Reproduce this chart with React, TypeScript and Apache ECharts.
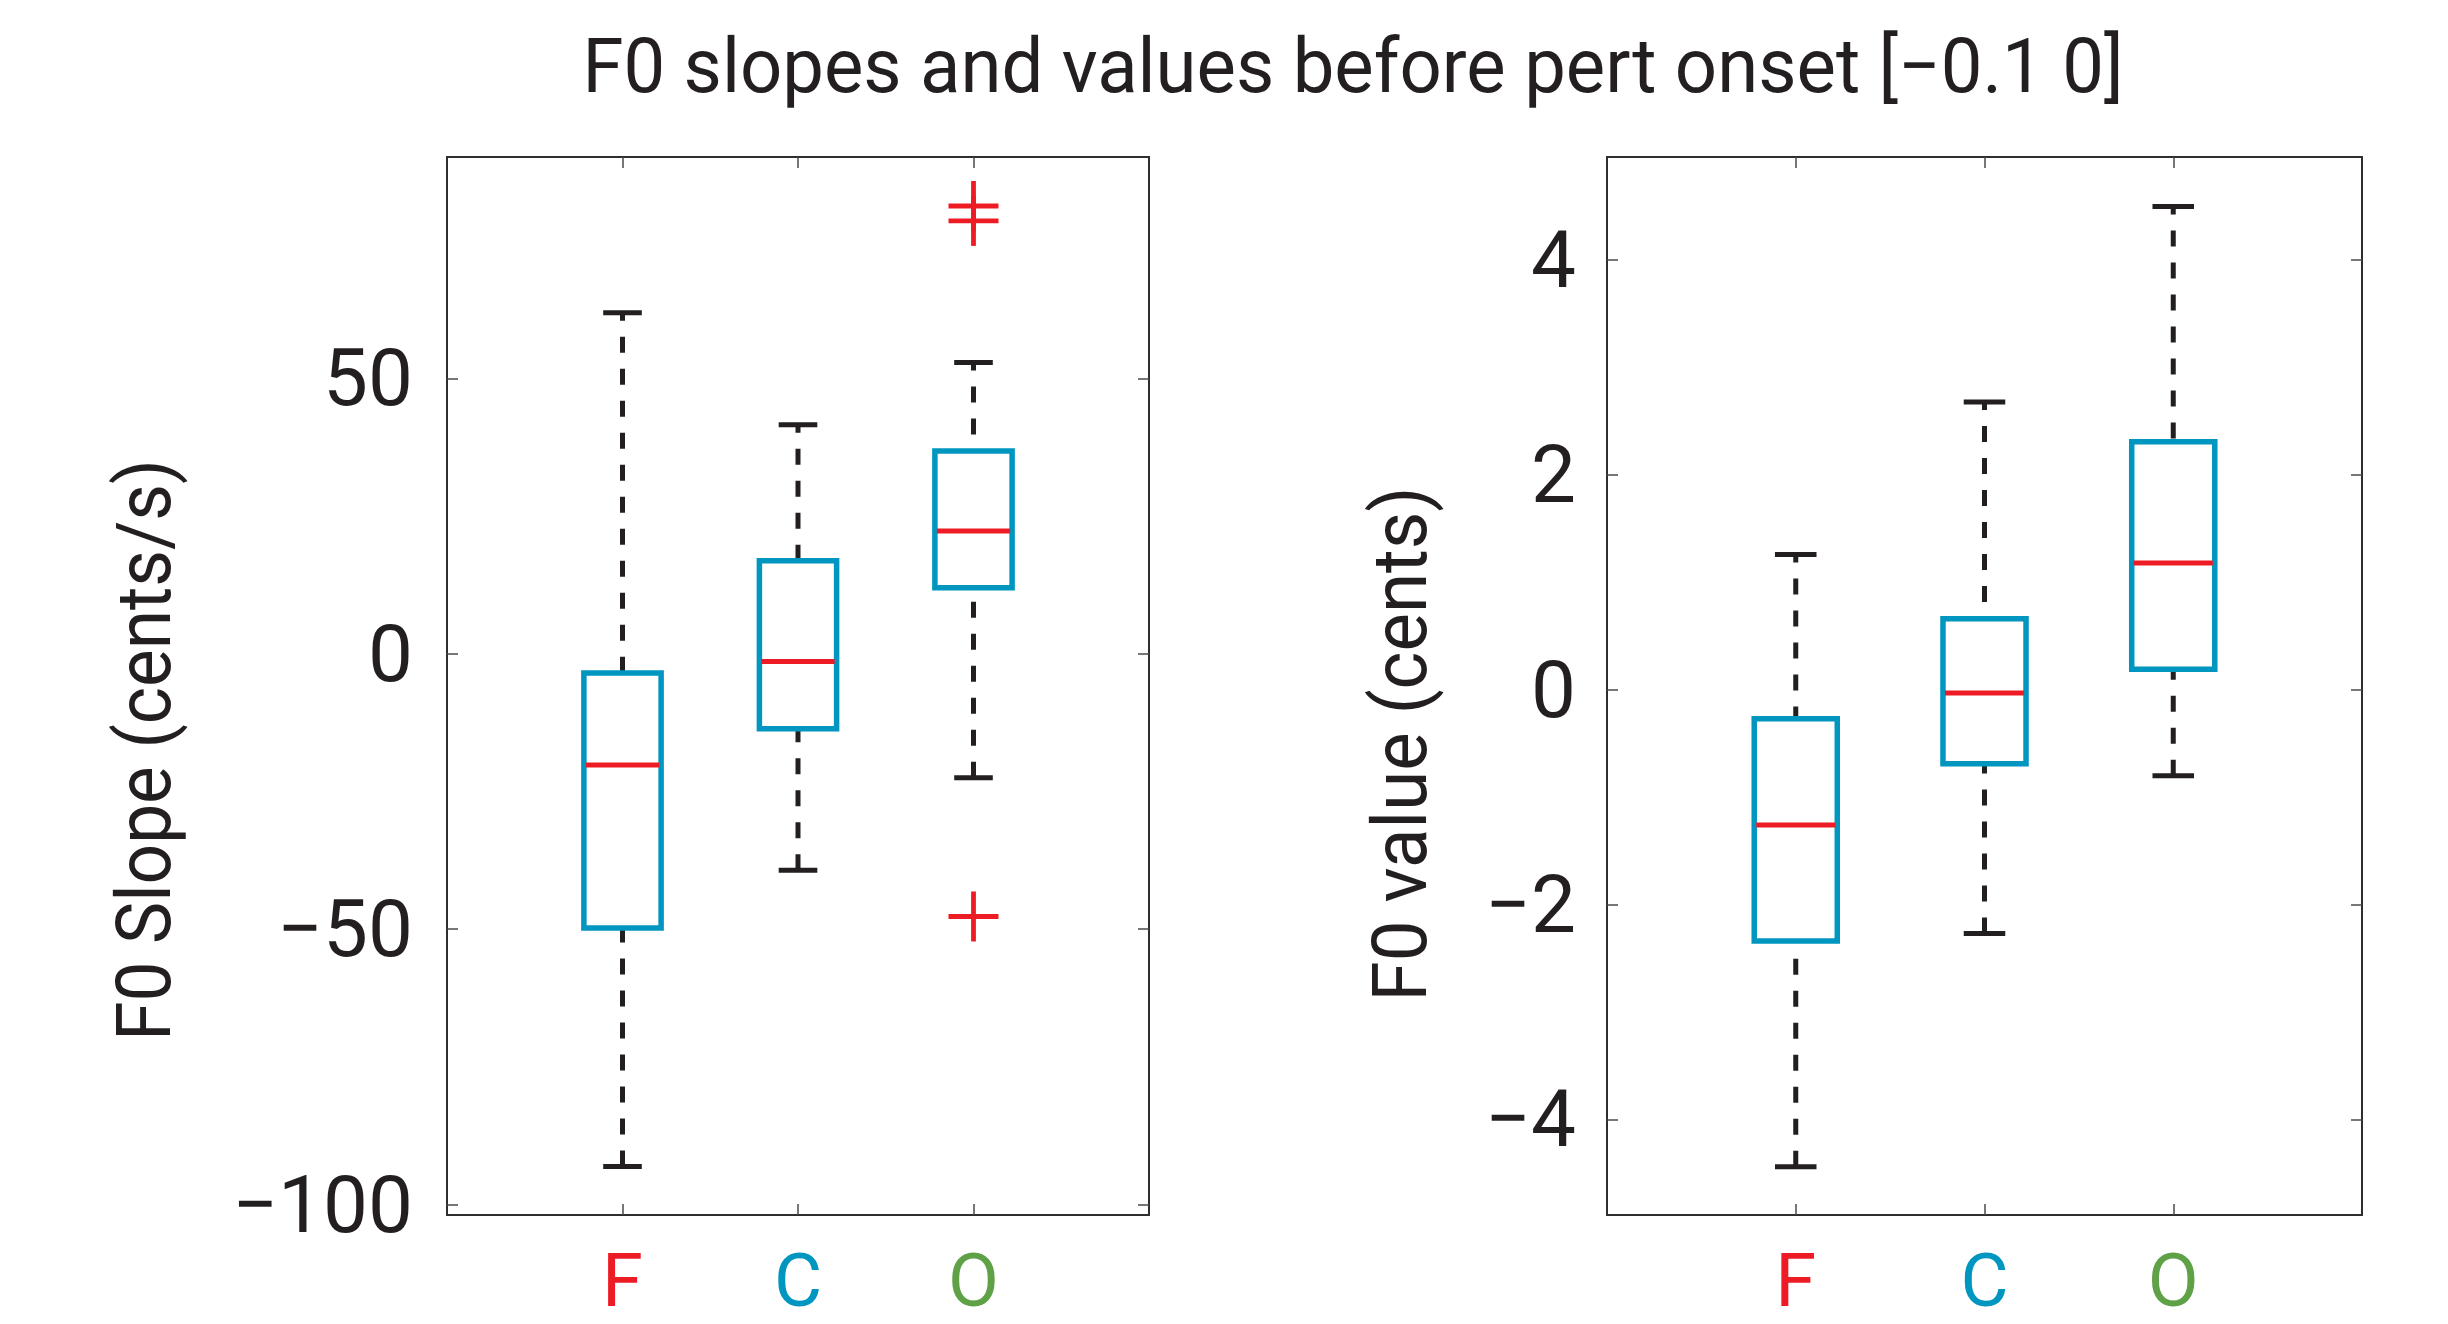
import React, { useEffect, useRef } from 'react';
import * as echarts from 'echarts';

// ---------- data ----------
const titleText = 'F0 slopes and values before pert onset [\u22120.1 0]';
const slopeAxisName = 'F0 Slope (cents/s)';
const valueAxisName = 'F0 value (cents)';

const categories = ['F', 'C', 'O'];
const categoryColors = ['#ed1c24', '#0096c0', '#5fa146'];
const categoryPositions = [1, 2, 3];

const slopeLow = [-93.1, -39.3, -22.5];
const slopeQ1 = [-49.8, -13.6, 12.0];
const slopeMedian = [-20.2, -1.4, 22.3];
const slopeQ3 = [-3.5, 16.9, 36.8];
const slopeHigh = [61.9, 41.6, 52.9];
const slopeOutlierGroup = [3, 3, 3];
const slopeOutlierValues = [81.3, 78.6, -47.7];

const valueLow = [-4.44, -2.27, -0.8];
const valueQ1 = [-2.34, -0.69, 0.19];
const valueMedian = [-1.26, -0.03, 1.18];
const valueQ3 = [-0.27, 0.66, 2.31];
const valueHigh = [1.26, 2.68, 4.5];

const slopeTicks = [-100, -50, 0, 50];
const valueTicks = [-4, -2, 0, 2, 4];
const slopeRange = [-101.9, 90.2];
const valueRange = [-4.89, 4.96];
const xRange = [0, 4];

// ---------- style ----------
const FONT = 'Roboto, "Open Sans", sans-serif';
const TEXT = '#231f20';
const BOX = '#0096c0';
const MEDIAN = '#ed1c24';
const WHISKER = '#231f20';
const BOX_HALF = 0.22;
const CAP_HALF = 0.11;

function renderBox(params: any, api: any) {
  const x = api.value(0);
  const low = api.value(1);
  const q1 = api.value(2);
  const med = api.value(3);
  const q3 = api.value(4);
  const high = api.value(5);
  const pHigh = api.coord([x, high]);
  const pQ3 = api.coord([x, q3]);
  const pQ1 = api.coord([x, q1]);
  const pLow = api.coord([x, low]);
  const pMed = api.coord([x, med]);
  const boxL = api.coord([x - BOX_HALF, q3]);
  const boxR = api.coord([x + BOX_HALF, q1]);
  const capL = api.coord([x - CAP_HALF, high])[0];
  const capR = api.coord([x + CAP_HALF, high])[0];
  const dash = { stroke: WHISKER, lineWidth: 5, lineDash: [16, 16], fill: null };
  return {
    type: 'group',
    children: [
      {
        type: 'line',
        shape: { x1: pHigh[0], y1: pHigh[1], x2: pQ3[0], y2: pQ3[1] },
        style: { ...dash, lineDashOffset: 8 },
      },
      {
        type: 'line',
        shape: { x1: pLow[0], y1: pLow[1], x2: pQ1[0], y2: pQ1[1] },
        style: { ...dash, lineDashOffset: 0 },
      },
      {
        type: 'line',
        shape: { x1: capL, y1: pHigh[1], x2: capR, y2: pHigh[1] },
        style: { stroke: WHISKER, lineWidth: 5 },
      },
      {
        type: 'line',
        shape: { x1: capL, y1: pLow[1], x2: capR, y2: pLow[1] },
        style: { stroke: WHISKER, lineWidth: 5 },
      },
      {
        type: 'rect',
        shape: { x: boxL[0], y: boxL[1], width: boxR[0] - boxL[0], height: boxR[1] - boxL[1] },
        style: { stroke: BOX, lineWidth: 5.5, fill: 'none' },
      },
      {
        type: 'line',
        shape: { x1: boxL[0] + 2, y1: pMed[1], x2: boxR[0] - 2, y2: pMed[1] },
        style: { stroke: MEDIAN, lineWidth: 5 },
      },
    ],
  };
}

function renderOutlier(params: any, api: any) {
  const p = api.coord([api.value(0), api.value(1)]);
  const h = 25;
  return {
    type: 'group',
    children: [
      { type: 'line', shape: { x1: p[0] - h, y1: p[1], x2: p[0] + h, y2: p[1] }, style: { stroke: MEDIAN, lineWidth: 4.8 } },
      { type: 'line', shape: { x1: p[0], y1: p[1] - h, x2: p[0], y2: p[1] + h }, style: { stroke: MEDIAN, lineWidth: 4.8 } },
    ],
  };
}

const axisLine = { show: true, onZero: false, lineStyle: { color: '#2e2e2e', width: 2 } };
const tickStyle = { color: '#4a4a4a', width: 1.5 };

function makeXAxes(gridIndex: number) {
  const common = {
    type: 'value',
    gridIndex,
    min: xRange[0],
    max: xRange[1],
    splitLine: { show: false },
    axisLine,
  };
  return [
    {
      ...common,
      position: 'bottom',
      axisTick: { show: true, inside: true, length: 11, customValues: categoryPositions, lineStyle: tickStyle },
      axisLabel: {
        show: true,
        customValues: categoryPositions,
        margin: 65,
        verticalAlign: 'middle',
        fontSize: 74,
        fontFamily: FONT,
        formatter: (v: number) => categories[Math.round(v) - 1] ?? '',
        color: (v: any) => categoryColors[Math.round(Number(v)) - 1] ?? TEXT,
      },
    },
    {
      ...common,
      position: 'top',
      axisTick: { show: true, inside: true, length: 11, customValues: categoryPositions, lineStyle: tickStyle },
      axisLabel: { show: false },
    },
  ];
}

function makeYAxes(gridIndex: number, range: number[], ticks: number[], margin: number) {
  const common = {
    type: 'value',
    gridIndex,
    min: range[0],
    max: range[1],
    splitLine: { show: false },
    axisLine,
    axisTick: { show: true, inside: true, length: 11, customValues: ticks, lineStyle: tickStyle },
  };
  return [
    {
      ...common,
      position: 'left',
      axisLabel: {
        show: true,
        customValues: ticks,
        margin,
        fontSize: 80,
        fontFamily: FONT,
        color: TEXT,
        formatter: (v: number) => (v < 0 ? '\u2212' + Math.abs(v) : String(v)),
      },
    },
    {
      ...common,
      position: 'right',
      axisLabel: { show: false },
    },
  ];
}

function boxData(low: number[], q1: number[], med: number[], q3: number[], high: number[]) {
  return categoryPositions.map((x, i) => [x, low[i], q1[i], med[i], q3[i], high[i]]);
}

function textEl(text: string, x: number, y: number, size: number, scaleX: number, rotation = 0) {
  return {
    type: 'text',
    x,
    y,
    rotation,
    scaleX,
    style: {
      text,
      fontSize: size,
      fontFamily: FONT,
      fill: TEXT,
      align: 'center',
      verticalAlign: 'middle',
      textAlign: 'center',
      textVerticalAlign: 'middle',
    },
  };
}

export default function App() {
  const ref = useRef<HTMLDivElement>(null);
  useEffect(() => {
    document.body.style.margin = '0';
    if (!ref.current) return;
    const chart = echarts.init(ref.current, null, { renderer: 'svg' });
    const option: any = {
      animation: false,
      backgroundColor: '#ffffff',
      grid: [
        { left: 447, top: 157, width: 702, height: 1058, outerBoundsMode: 'none' },
        { left: 1607, top: 157, width: 755, height: 1058, outerBoundsMode: 'none' },
      ],
      xAxis: [...makeXAxes(0), ...makeXAxes(1)],
      yAxis: [...makeYAxes(0, slopeRange, slopeTicks, 34), ...makeYAxes(1, valueRange, valueTicks, 31)],
      series: [
        {
          type: 'custom',
          xAxisIndex: 0,
          yAxisIndex: 0,
          silent: true,
          renderItem: renderBox,
          encode: { x: 0, y: [1, 2, 3, 4, 5] },
          data: boxData(slopeLow, slopeQ1, slopeMedian, slopeQ3, slopeHigh),
        },
        {
          type: 'custom',
          xAxisIndex: 0,
          yAxisIndex: 0,
          silent: true,
          renderItem: renderOutlier,
          encode: { x: 0, y: 1 },
          data: slopeOutlierGroup.map((g, i) => [g, slopeOutlierValues[i]]),
        },
        {
          type: 'custom',
          xAxisIndex: 2,
          yAxisIndex: 2,
          silent: true,
          renderItem: renderBox,
          encode: { x: 0, y: [1, 2, 3, 4, 5] },
          data: boxData(valueLow, valueQ1, valueMedian, valueQ3, valueHigh),
        },
      ],
      graphic: [
        textEl(titleText, 1353, 66, 76, 0.977),
        textEl(slopeAxisName, 144, 750, 76, 0.936, Math.PI / 2),
        textEl(valueAxisName, 1400, 744, 76, 0.955, Math.PI / 2),
      ],
    };
    chart.setOption(option);
    return () => chart.dispose();
  }, []);
  return <div ref={ref} style={{ width: 2448, height: 1324 }} />;
}
